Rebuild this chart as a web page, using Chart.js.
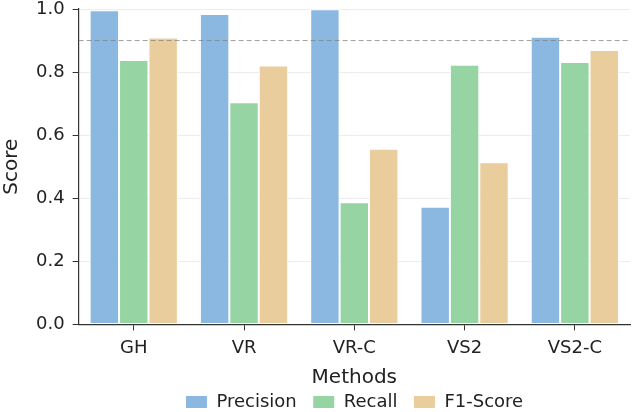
<!DOCTYPE html>
<html>
<head>
<meta charset="utf-8">
<script src="https://cdn.jsdelivr.net/npm/chart.js@4.4.1/dist/chart.umd.min.js"></script>
<style>
  html, body { margin: 0; padding: 0; background: #ffffff; }
  #wrap { width: 633px; height: 412px; }
</style>
</head>
<body>
<div id="wrap"><canvas id="c" width="633" height="412"></canvas></div>
<script>
const categories = ["GH", "VR", "VR-C", "VS2", "VS2-C"];
const precision = [0.996, 0.984, 0.999, 0.373, 0.912];
const recall    = [0.838, 0.704, 0.387, 0.823, 0.832];
const f1Score   = [0.910, 0.821, 0.557, 0.514, 0.870];
const seriesNames = ["Precision", "Recall", "F1-Score"];
const seriesColors = ["#8AB8E1", "#97D4A4", "#EACD9C"];
const yTicks = [0.0, 0.2, 0.4, 0.6, 0.8, 1.0];
const thresholdValue = 0.9;

const FONT = "'DejaVu Sans', sans-serif";

const thresholdPlugin = {
  id: 'threshold',
  afterDatasetsDraw(chart) {
    const { ctx, chartArea, scales } = chart;
    const y = scales.y.getPixelForValue(thresholdValue);
    ctx.save();
    ctx.strokeStyle = 'rgba(128,128,128,0.75)';
    ctx.lineWidth = 1;
    ctx.setLineDash([5, 3]);
    ctx.beginPath();
    ctx.moveTo(chartArea.left, y);
    ctx.lineTo(chartArea.right, y);
    ctx.stroke();
    ctx.restore();
  }
};

const datasets = [precision, recall, f1Score].map((d, i) => ({
  label: seriesNames[i],
  data: d,
  backgroundColor: seriesColors[i],
  borderColor: '#ffffff',
  borderWidth: 1,
  borderSkipped: false,
  categoryPercentage: 0.8,
  barPercentage: 1.0
}));

new Chart(document.getElementById('c'), {
  type: 'bar',
  data: { labels: categories, datasets },
  plugins: [thresholdPlugin],
  options: {
    responsive: false,
    animation: false,
    layout: { padding: { top: 0, right: 3, left: 0, bottom: -9 } },
    plugins: {
      tooltip: { enabled: false },
      legend: {
        position: 'bottom',
        fullSize: false,
        labels: {
          font: { family: FONT, size: 18 },
          color: '#222',
          boxWidth: 22,
          boxHeight: 13,
          padding: 16
        }
      }
    },
    scales: {
      x: {
        offset: true,
        grid: {
          offset: false,
          drawOnChartArea: false,
          color: '#333',
          tickColor: '#333',
          tickLength: 6,
          tickWidth: 1
        },
        border: { display: true, color: '#333', width: 1.2 },
        ticks: { font: { family: FONT, size: 18 }, color: '#222', padding: 7 },
        title: {
          display: true,
          text: 'Methods',
          font: { family: FONT, size: 20 },
          color: '#222',
          padding: { top: 0, bottom: -13 }
        }
      },
      y: {
        min: 0,
        max: 1,
        afterBuildTicks(scale) { scale.ticks = yTicks.map(v => ({ value: v })); },
        afterFit(scale) { scale.paddingTop = 9; scale.paddingBottom = 0; },
        grid: {
          color: 'rgba(0,0,0,0.07)',
          tickColor: '#333',
          tickLength: 6,
          tickWidth: 1
        },
        border: { display: true, color: '#333', width: 1.2 },
        ticks: {
          font: { family: FONT, size: 18 },
          color: '#222',
          padding: 8,
          callback: (v) => Number(v).toFixed(1)
        },
        title: {
          display: true,
          text: 'Score',
          font: { family: FONT, size: 20 },
          color: '#222',
          padding: { top: 0, bottom: 4 }
        }
      }
    }
  }
});
</script>
</body>
</html>
